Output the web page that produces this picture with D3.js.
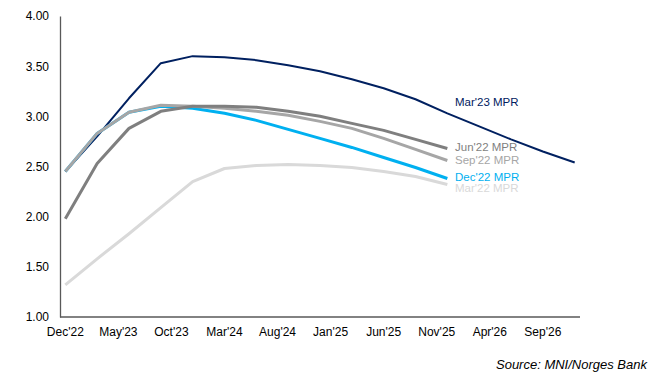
<!DOCTYPE html>
<html>
<head>
<meta charset="utf-8">
<script src="https://cdn.jsdelivr.net/npm/d3@7"></script>
<style>
  html, body { margin: 0; padding: 0; background: #fff; }
  svg { display: block; font-family: "Liberation Sans", Arial, sans-serif; }
</style>
</head>
<body>
<svg id="chart" width="658" height="380"></svg>
<script>
// ---- data ----
const quarters = ["Dec'22","Mar'23","Jun'23","Sep'23","Dec'23","Mar'24","Jun'24","Sep'24",
                  "Dec'24","Mar'25","Jun'25","Sep'25","Dec'25","Mar'26","Jun'26","Sep'26","Dec'26"];
const tickLabels = ["Dec'22","May'23","Oct'23","Mar'24","Aug'24","Jan'25","Jun'25","Nov'25","Apr'26","Sep'26"];
const yTicks = [1.0, 1.5, 2.0, 2.5, 3.0, 3.5, 4.0];

const mar22 = [1.32, 1.58, 1.83, 2.09, 2.35, 2.48, 2.51, 2.52, 2.51, 2.49, 2.45, 2.40, 2.32];
const jun22 = [1.98, 2.53, 2.88, 3.05, 3.10, 3.10, 3.09, 3.05, 3.00, 2.93, 2.86, 2.77, 2.68];
const sep22 = [2.45, 2.83, 3.04, 3.11, 3.10, 3.08, 3.05, 3.01, 2.95, 2.88, 2.78, 2.67, 2.56];
const dec22 = [2.45, 2.83, 3.04, 3.10, 3.08, 3.03, 2.96, 2.87, 2.78, 2.69, 2.59, 2.49, 2.38];
const mar23 = [2.45, 2.80, 3.18, 3.53, 3.60, 3.59, 3.56, 3.51, 3.45, 3.37, 3.28, 3.17, 3.03,
               2.90, 2.77, 2.65, 2.54];

const seriesNames = ["Mar'22 MPR", "Mar'23 MPR", "Dec'22 MPR", "Sep'22 MPR", "Jun'22 MPR"];
const seriesValues = [mar22, mar23, dec22, sep22, jun22];
const seriesColors = ["#d9d9d9", "#002060", "#00b0f0", "#a6a6a6", "#7f7f7f"];
const seriesWidths = [3, 2, 3, 3, 3];
const labelY = [2.29, 3.14, 2.40, 2.57, 2.69]; // label anchor values

// ---- monthly category axis ----
const fmt = d3.timeFormat("%b'%y");
const months = d3.timeMonth.range(new Date(2022, 11, 1), new Date(2027, 0, 1)).map(fmt);

const svg = d3.select("#chart");
const x = d3.scaleBand().domain(months).range([60, 580]).padding(0);
const xc = m => x(m) + x.bandwidth() / 2;
const y = d3.scaleLinear().domain([1, 4]).range([317, 16]);

// axes
const yAxis = d3.axisLeft(y).tickValues(yTicks).tickFormat(d3.format(".2f"))
  .tickSize(0).tickPadding(11);
const gy = svg.append("g").attr("transform", "translate(60,0)").call(yAxis);
gy.select(".domain").attr("stroke", "#595959").attr("stroke-width", 1.3);
gy.selectAll("text").attr("font-size", 12).attr("fill", "#000")
  .attr("font-family", "'Liberation Sans', Arial, sans-serif");

const xAxis = d3.axisBottom(x).tickValues(tickLabels).tickSize(0).tickPadding(10);
const gx = svg.append("g").attr("transform", "translate(0,317)").call(xAxis);
gx.select(".domain").attr("stroke", "#595959").attr("stroke-width", 1.3)
  .attr("d", "M60,0H580");
gx.selectAll("text").attr("font-size", 12).attr("fill", "#000")
  .attr("font-family", "'Liberation Sans', Arial, sans-serif");

// lines
const line = d3.line().x(d => xc(d.q)).y(d => y(d.v));
seriesValues.forEach((vals, i) => {
  const pts = vals.map((v, j) => ({ q: quarters[j], v }));
  svg.append("path").datum(pts)
    .attr("fill", "none")
    .attr("stroke", seriesColors[i])
    .attr("stroke-width", seriesWidths[i])
    .attr("stroke-linejoin", "round")
    .attr("d", line);
});

// labels
seriesNames.forEach((name, i) => {
  svg.append("text")
    .attr("x", 455)
    .attr("y", y(labelY[i]))
    .attr("dy", "0.35em")
    .attr("font-size", 11.5)
    .attr("fill", seriesColors[i])
    .text(name);
});

// source
svg.append("text")
  .attr("x", 647).attr("y", 364).attr("dy", "0.35em")
  .attr("text-anchor", "end")
  .attr("font-size", 13).attr("font-style", "italic").attr("fill", "#000")
  .text("Source: MNI/Norges Bank");
</script>
</body>
</html>
